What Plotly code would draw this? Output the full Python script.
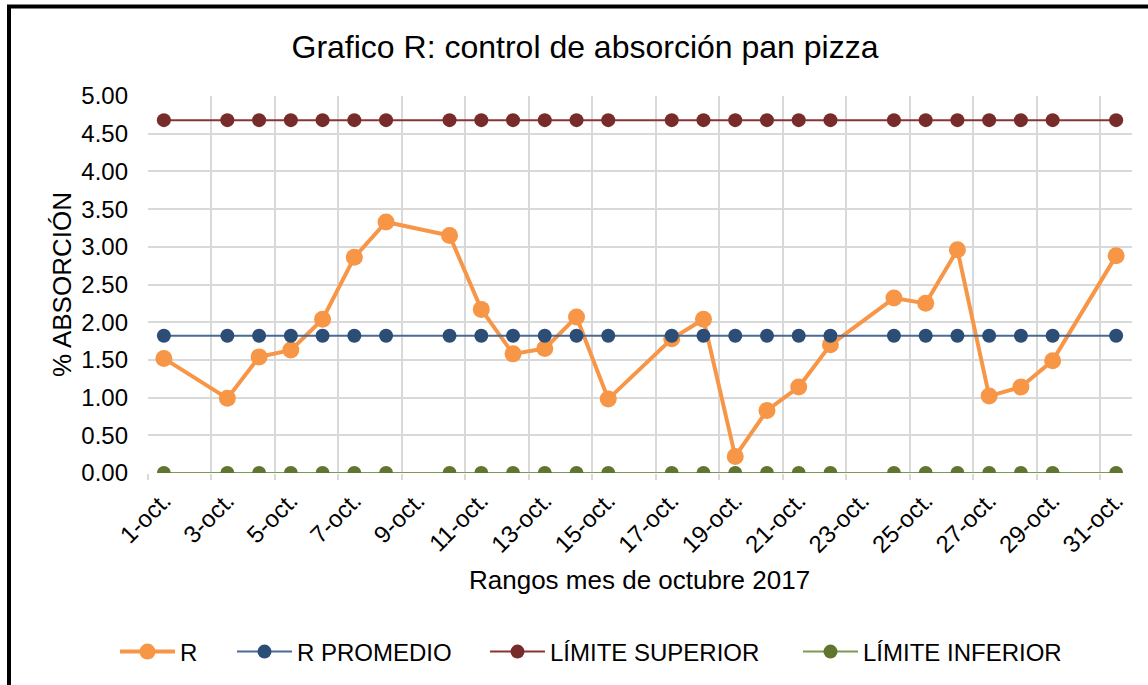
import plotly.graph_objects as go

# ---- data ----
days = [1, 3, 4, 5, 6, 7, 8, 10, 11, 12, 13, 14, 15, 17, 18, 19, 20, 21, 22,
        24, 25, 26, 27, 28, 29, 31]
r_values = [1.52, 0.99, 1.54, 1.63, 2.04, 2.86, 3.33, 3.15, 2.17, 1.58, 1.65,
            2.07, 0.98, 1.78, 2.04, 0.22, 0.83, 1.14, 1.70, 2.32, 2.25, 2.96,
            1.02, 1.14, 1.49, 2.88]
r_promedio = [1.82] * len(days)
limite_superior = [4.68] * len(days)
limite_inferior = [0.00] * len(days)

tick_days = list(range(1, 32, 2))
tick_labels = [f"{d}-oct." for d in tick_days]
grid_days = [d - 0.5 for d in range(1, 32, 2)]

FONT = "Arial, 'Liberation Sans', sans-serif"

# ---- geometry (px) ----
W, H = 1148, 685
L, R_, T, B = 148, 16, 96, 212
pw, ph = W - L - R_, H - T - B


def px(x):
    return (x - L) / pw


def py(y):
    return (H - B - y) / ph


fig = go.Figure()

fig.add_trace(go.Scatter(
    x=days, y=r_values, name="R", mode="lines+markers",
    line=dict(color="#F79646", width=4),
    marker=dict(color="#F79646", size=17), legend="legend"))
fig.add_trace(go.Scatter(
    x=days, y=r_promedio, name="R PROMEDIO", mode="lines+markers",
    line=dict(color="#4A6A96", width=2),
    marker=dict(color="#2C4D75", size=14), legend="legend2"))
fig.add_trace(go.Scatter(
    x=days, y=limite_superior, name="LÍMITE SUPERIOR", mode="lines+markers",
    line=dict(color="#8A3533", width=2),
    marker=dict(color="#772C2A", size=14), legend="legend3"))
fig.add_trace(go.Scatter(
    x=days, y=limite_inferior, name="LÍMITE INFERIOR", mode="lines+markers",
    line=dict(color="#7F9A50", width=2),
    marker=dict(color="#5F7530", size=14), legend="legend4"))


def leg(xpix):
    return dict(orientation="h", x=px(xpix - 5), y=py(652),
                xanchor="left", yanchor="middle", itemwidth=55,
                font=dict(size=24, family=FONT, color="#000000"),
                bgcolor="rgba(0,0,0,0)")


fig.update_layout(
    width=W, height=H,
    margin=dict(l=L, r=R_, t=T, b=B, autoexpand=False),
    paper_bgcolor="white", plot_bgcolor="white",
    font=dict(family=FONT, color="#000000", size=24),
    title=dict(text="Grafico R: control de absorción pan pizza",
               font=dict(size=32, family=FONT, color="#000000"),
               x=585 / W, xref="container", xanchor="center",
               y=1 - 47 / H, yref="container", yanchor="middle"),
    showlegend=True,
    legend=leg(120),
    legend2=leg(237),
    legend3=leg(490),
    legend4=leg(803),
    xaxis=dict(
        range=[0.5, 31.5], tickmode="array", tickvals=tick_days,
        ticktext=tick_labels, tickangle=-45, showgrid=False, zeroline=False,
        ticks="outside", ticklen=3, tickcolor="rgba(0,0,0,0)",
        tickfont=dict(size=24, family=FONT),
        minor=dict(tickmode="array", tickvals=grid_days, showgrid=True,
                   gridcolor="#D9D9D9", gridwidth=1.5, ticks="outside",
                   ticklen=6, tickcolor="#D9D9D9", tickwidth=1.5),
        showline=False, fixedrange=True),
    yaxis=dict(
        range=[0, 5], dtick=0.5, tick0=0, tickformat=".2f",
        showgrid=True, gridcolor="#D9D9D9", gridwidth=1.5, zeroline=False,
        ticks="", ticklabelstandoff=19,
        tickfont=dict(size=24, family=FONT), fixedrange=True),
    annotations=[
        dict(text="% ABSORCIÓN", textangle=-90, xref="paper", yref="paper",
             x=px(62), y=py(285), xanchor="center", yanchor="middle",
             showarrow=False, font=dict(size=26, family=FONT)),
        dict(text="Rangos mes de octubre 2017", xref="paper", yref="paper",
             x=px(639), y=py(580), xanchor="center", yanchor="middle",
             showarrow=False, font=dict(size=26, family=FONT)),
    ],
    shapes=[
        dict(type="rect", xref="paper", yref="paper",
             x0=px(9), x1=px(1175), y0=py(720), y1=py(6.5),
             line=dict(color="black", width=4), fillcolor="rgba(0,0,0,0)",
             layer="above"),
    ],
)

fig.write_html("out.html",
               config={"displayModeBar": False},
               post_script="document.body.style.margin='0';"
                           "document.body.style.overflow='hidden';")
